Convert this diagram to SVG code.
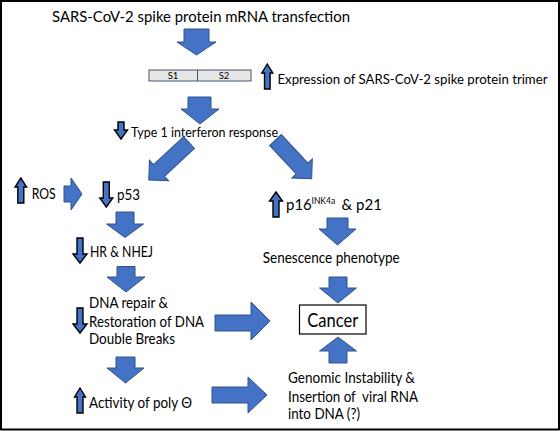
<svg xmlns="http://www.w3.org/2000/svg" width="560" height="431" viewBox="0 0 560 431">
<style>
.t{font-family:Lato,"Liberation Sans",sans-serif;fill:#000;}
.big{fill:#4472C4;stroke:#2F528F;stroke-width:1;stroke-linejoin:miter;}
.sm{fill:#4472C4;stroke:#000;stroke-width:1.4;stroke-linejoin:miter;}
</style>
<rect x="0" y="0" width="560" height="431" fill="#fff"/>
<rect x="1" y="1" width="558" height="428.5" fill="none" stroke="#000" stroke-width="2"/>

<g id="title">
<text class="t" x="52" y="21.5" font-size="16" textLength="298" lengthAdjust="spacingAndGlyphs">SARS-CoV-2 spike protein mRNA transfection</text>
</g>

<g id="spike">
<rect x="149" y="70" width="102" height="11" fill="#e6e6e6" stroke="#44546a" stroke-width="1"/>
<line x1="197.5" y1="70" x2="197.5" y2="81" stroke="#44546a" stroke-width="1"/>
<text class="t" x="173" y="79" font-size="9.5" text-anchor="middle">S1</text>
<text class="t" x="224" y="79" font-size="9.5" text-anchor="middle">S2</text>
<polygon class="sm" points="267.3,64 272.8,73 270.1,73 270.1,89 264.5,89 264.5,73 261.8,73"/>
<text class="t" x="277.5" y="83.5" font-size="13.5" textLength="270" lengthAdjust="spacingAndGlyphs">Expression of SARS-CoV-2 spike protein trimer</text>
</g>

<g id="interferon">
<polygon class="sm" points="118,122 124,122 124,130 127.5,130 121,139 114.5,130 118,130"/>
<text class="t" x="131" y="136.5" font-size="13" textLength="147" lengthAdjust="spacingAndGlyphs">Type 1 interferon response</text>
</g>

<g id="ros">
<polygon class="sm" points="20.8,178 26.6,187 23.8,187 23.8,203 17.8,203 17.8,187 15,187"/>
<text class="t" x="31.7" y="198.5" font-size="15" textLength="24" lengthAdjust="spacingAndGlyphs">ROS</text>
</g>

<g id="p53">
<polygon class="sm" points="103.3,182 109.3,182 109.3,198 112.8,198 106.3,207 99.8,198 103.3,198"/>
<text class="t" x="117" y="200" font-size="15" textLength="23" lengthAdjust="spacingAndGlyphs">p53</text>
</g>

<g id="p16">
<polygon class="sm" points="276,192 282.5,201 279,201 279,217 273,217 273,201 269.5,201"/>
<text class="t" x="286" y="210" font-size="15">p16<tspan x="311.5" y="204" font-size="8.5">INK4a</tspan><tspan x="341.5" y="210" font-size="15">&amp; p21</tspan></text>
</g>

<g id="hr">
<polygon class="sm" points="77,238 83,238 83,254 87,254 80,263 73,254 77,254"/>
<text class="t" x="90" y="256.5" font-size="15" textLength="63" lengthAdjust="spacingAndGlyphs">HR &amp; NHEJ</text>
</g>

<g id="senescence">
<text class="t" x="262.7" y="263.3" font-size="15" textLength="137" lengthAdjust="spacingAndGlyphs">Senescence phenotype</text>
</g>

<g id="dnarepair">
<polygon class="sm" points="77,308 83,308 83,324 87,324 80,333 73,324 77,324"/>
<text class="t" x="89" y="308" font-size="15" textLength="79" lengthAdjust="spacingAndGlyphs">DNA repair &amp;</text>
<text class="t" x="89" y="326.5" font-size="15" textLength="115" lengthAdjust="spacingAndGlyphs">Restoration of DNA</text>
<text class="t" x="89" y="344" font-size="15" textLength="86" lengthAdjust="spacingAndGlyphs">Double Breaks</text>
</g>

<g id="cancer">
<rect x="299.5" y="305" width="66.5" height="29" fill="#fff" stroke="#000" stroke-width="1.2"/>
<text class="t" x="332.7" y="326.5" font-size="19" text-anchor="middle" textLength="51" lengthAdjust="spacingAndGlyphs">Cancer</text>
</g>

<g id="polytheta">
<polygon class="sm" points="80,388 85.5,397 83,397 83,413 77,413 77,397 74.5,397"/>
<text class="t" x="89" y="408" font-size="15" textLength="103" lengthAdjust="spacingAndGlyphs">Activity of poly Θ</text>
</g>

<g id="genomic">
<text class="t" x="288" y="383.3" font-size="14.5" textLength="127" lengthAdjust="spacingAndGlyphs">Genomic Instability &amp;</text>
<text class="t" x="288" y="401.7" font-size="14.5" xml:space="preserve" textLength="130" lengthAdjust="spacingAndGlyphs">Insertion of  viral RNA</text>
<text class="t" x="288" y="419" font-size="14.5" textLength="72" lengthAdjust="spacingAndGlyphs">into DNA (?)</text>
</g>

<g id="connectors">
<polygon class="big" points="184,29 209,29 209,42 216,42 196.5,55 177,42 184,42"/>
<polygon class="big" points="188,97 211,97 211,109 219,109 200,124 181,109 188,109"/>
<polygon class="big" transform="translate(189,142.5) rotate(137)" points="0,-8 41,-8 41,-14 55,0 41,14 41,8 0,8"/>
<polygon class="big" transform="translate(275.5,140) rotate(47)" points="0,-8 39,-8 39,-14 53,0 39,14 39,8 0,8"/>
<polygon class="big" points="64,186 71,186 71,178 82,194 71,210 71,202 64,202"/>
<polygon class="big" points="116,212 134,212 134,224 143.5,224 125,237.5 106.5,224 116,224"/>
<polygon class="big" points="117,266.5 135,266.5 135,277 145,277 126,292 107,277 117,277"/>
<polygon class="big" points="116,357 135,357 135,368 144,368 125.5,383 107,368 116,368"/>
<polygon class="big" points="327,218 348,218 348,229 356,229 337.5,245 319,229 327,229"/>
<polygon class="big" points="329,277 347,277 347,288 356.5,288 338,303 319.5,288 329,288"/>
<polygon class="big" points="338,337 356.5,351 347,351 347,363 329,363 329,351 319.5,351"/>
<polygon class="big" points="215,315 251,315 251,302 270,321 251,340 251,331 215,331"/>
<polygon class="big" points="212,387 248,387 248,377 267,395 248,413 248,403 212,403"/>
</g>
</svg>
